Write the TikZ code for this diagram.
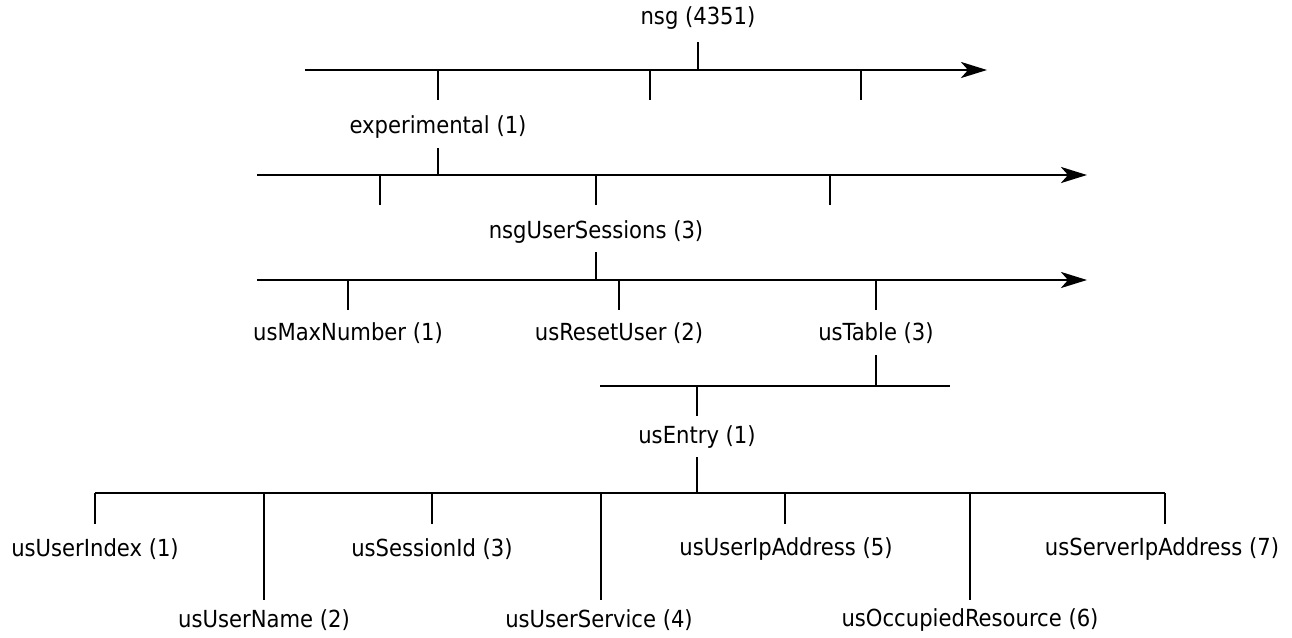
\documentclass[tikz,border=0pt]{standalone}
\usepackage{fontspec}
\setmainfont{DejaVu Sans Condensed}
\usetikzlibrary{arrows.meta}
\tikzset{
  lbl/.style={inner sep=0pt, font=\fontsize{23.5}{28}\selectfont, anchor=center},
  axis/.style={line width=2.9pt, -{Stealth[length=26pt,width=16pt,inset=7pt]}},
  bar/.style={line width=2.3pt},
  tick/.style={line width=1.6pt},
}
\begin{document}
\begin{tikzpicture}[x=1pt,y=-1pt]
\useasboundingbox (0,0) rectangle (1292,637);

% level 1: nsg
\node[lbl] (nsg) at (698,18) {nsg (4351)};
\coordinate (a1s) at (305,70);
\coordinate (a1e) at (987,70);
\draw[axis] (a1s) -- (a1e);
\draw[tick] (698,42) -- (698,70);
\draw[tick] (438,70) -- (438,100);
\draw[tick] (650,70) -- (650,100);
\draw[tick] (861,70) -- (861,100);

% level 2: experimental
\node[lbl] (exp) at (438,127) {experimental (1)};
\coordinate (a2s) at (257,175);
\coordinate (a2e) at (1087,175);
\draw[axis] (a2s) -- (a2e);
\draw[tick] (438,148) -- (438,175);
\draw[tick] (380,175) -- (380,205);
\draw[tick] (596,175) -- (596,205);
\draw[tick] (830,175) -- (830,205);

% level 3: nsgUserSessions
\node[lbl] (sess) at (596,232) {nsgUserSessions (3)};
\coordinate (a3s) at (257,280);
\coordinate (a3e) at (1087,280);
\draw[axis] (a3s) -- (a3e);
\draw[tick] (596,252) -- (596,280);
\draw[tick] (348,280) -- (348,310);
\draw[tick] (619,280) -- (619,310);
\draw[tick] (876,280) -- (876,310);

\node[lbl] (maxn) at (348,333) {usMaxNumber (1)};
\node[lbl] (reset) at (619,333) {usResetUser (2)};
\node[lbl] (table) at (876,333) {usTable (3)};

% usTable -> usEntry
\draw[tick] (876,355) -- (876,386);
\draw[bar] (600,386) -- (950,386);
\draw[tick] (697,386) -- (697,416);
\node[lbl] (entry) at (697,437) {usEntry (1)};

% usEntry columns
\draw[tick] (697,457) -- (697,493);
\draw[bar] (95,493) -- (1165,493);
\draw[tick] (95,493) -- (95,524);
\draw[tick] (264,493) -- (264,600);
\draw[tick] (432,493) -- (432,524);
\draw[tick] (601,493) -- (601,600);
\draw[tick] (785,493) -- (785,524);
\draw[tick] (970,493) -- (970,600);
\draw[tick] (1165,493) -- (1165,524);

\node[lbl] (c1) at (95,549) {usUserIndex (1)};
\node[lbl] (c3) at (432,549) {usSessionId (3)};
\node[lbl] (c5) at (786,549) {usUserIpAddress (5)};
\node[lbl] (c7) at (1162,549) {usServerIpAddress (7)};
\node[lbl] (c2) at (264,620) {usUserName (2)};
\node[lbl] (c4) at (599,620) {usUserService (4)};
\node[lbl] (c6) at (970,620) {usOccupiedResource (6)};
\end{tikzpicture}
\end{document}
